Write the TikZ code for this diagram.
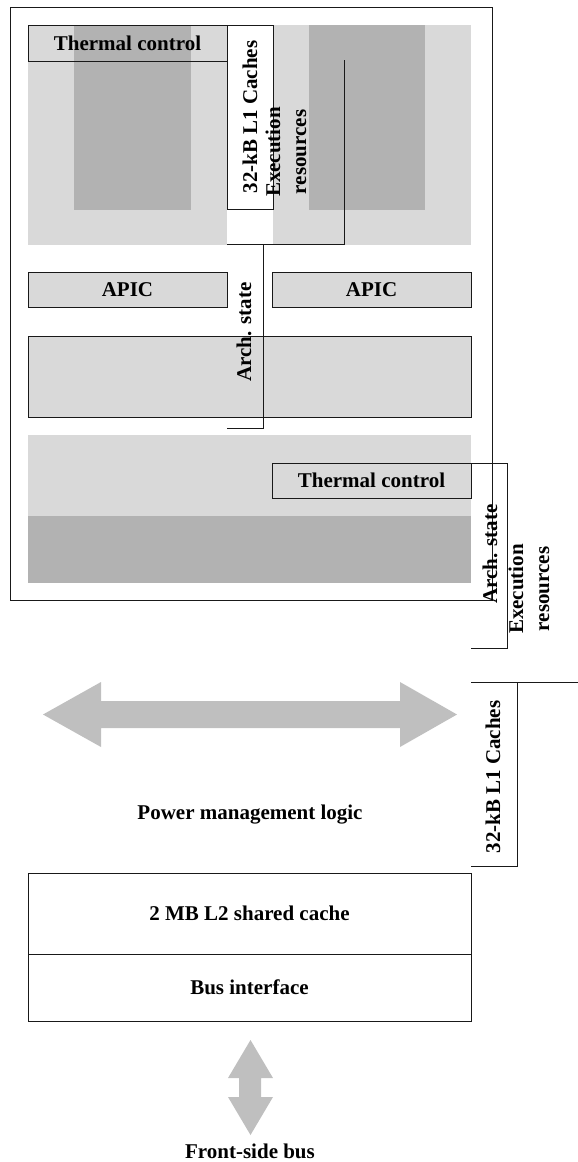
\documentclass[tikz,border=0pt]{standalone}
\usepackage{fontspec}
\setmainfont{Liberation Serif}
\usetikzlibrary{positioning}
\definecolor{cLight}{RGB}{217,217,217}
\definecolor{cDark}{RGB}{178,178,178}
\definecolor{cArrow}{RGB}{191,191,191}
\definecolor{cLine}{RGB}{25,25,25}
\newcommand{\blkfont}{\fontsize{21}{26}\selectfont\bfseries}
\tikzset{
  zone/.style={rectangle, fill=cLight, inner sep=0pt, outer sep=0pt, anchor=north west},
  unit/.style={zone, fill=cDark},
  blk/.style={rectangle, draw=cLine, line width=0.9pt, fill=cLight, inner sep=0pt,
              outer sep=0pt, anchor=north west, align=center, font=\blkfont},
  wblk/.style={blk, fill=white},
  oblk/.style={blk, fill=none},
  vlbl/.style={rotate=90, align=center, inner sep=0pt, font=\blkfont},
  txt/.style={inner sep=0pt, font=\blkfont},
  brk/.style={draw=cLine, line width=0.9pt},
  fat/.style={fill=cArrow},
}

\begin{document}
\begin{tikzpicture}[x=1pt, y=-1pt]
  \useasboundingbox (0,0) rectangle (578,1162);

  % --- chip outline ---
  \node[oblk, minimum width=482pt, minimum height=593pt] (chip) at (10,7) {};

  % --- core 1 and core 2 shading ---
  \node[zone, minimum width=199pt, minimum height=220pt] (core1) at (28,25) {};
  \node[unit, minimum width=117pt, minimum height=185pt] (exe1) at (74,25) {};
  \node[zone, minimum width=198pt, minimum height=220pt] (core2) at (273,25) {};
  \node[unit, minimum width=116pt, minimum height=185pt] (exe2) at (309,25) {};
  \node[zone, minimum width=443pt, minimum height=81pt] (core3) at (28,435) {};
  \node[unit, minimum width=443pt, minimum height=67pt] (exe3) at (28,516) {};

  % --- blocks ---
  \node[oblk, minimum width=199pt, minimum height=36pt] (tc1) at (28,25) {Thermal control};
  \node[wblk, anchor=center, rotate=90, minimum width=184pt, minimum height=46pt]
    (l1a) at (250,117) {32-kB L1 Caches};
  \node[blk, minimum width=199pt, minimum height=35pt] (apic1) at (28,272) {APIC};
  \node[blk, minimum width=199pt, minimum height=35pt] (apic2) at (272,272) {APIC};
  \node[blk, minimum width=443pt, minimum height=81pt] (arch) at (28,336) {};
  \node[oblk, minimum width=199pt, minimum height=35pt] (tc2) at (272,463) {Thermal control};

  % --- brackets ---
  \coordinate (exTop) at (344,60);
  \coordinate (exEnd) at (227,244);
  \coordinate (asTop) at (263,244);
  \coordinate (asEnd) at (227,428);
  \coordinate (rbEnd) at (471,648);
  \coordinate (l1Top) at (471,682);
  \coordinate (l1Far) at (578,682);
  \coordinate (l1Mid) at (517,682);
  \coordinate (l1End) at (471,866);
  \draw[brk] (exTop) |- (exEnd);
  \draw[brk] (asTop) |- (asEnd);
  \draw[brk] (tc2.north east) -- ++(36,0) |- (rbEnd);
  \draw[brk] (l1Top) -- (l1Far);
  \draw[brk] (l1Mid) |- (l1End);

  % --- rotated labels ---
  \node[vlbl] (exlbl1) at (286,152) {Execution\\resources};
  \node[vlbl] (aslbl1) at (244,332) {Arch. state};
  \node[vlbl] (aslbl2) at (490,554) {Arch. state};
  \node[vlbl] (exlbl2) at (529,589) {Execution\\resources};
  \node[vlbl] (l1b) at (493,777) {32-kB L1 Caches};

  % --- shared part ---
  \fill[fat] (43,714.5) -- (101,682) -- (101,701) -- (400,701) -- (400,682) -- (457,714.5)
    -- (400,747) -- (400,728) -- (101,728) -- (101,747) -- cycle;
  \node[txt] (pml) at (250,815) {Power management logic};
  \node[wblk, minimum width=443pt, minimum height=81pt] (l2) at (28,873) {2 MB L2 shared cache};
  \node[wblk, minimum width=443pt, minimum height=67pt] (bus) at (28,954) {Bus interface};
  \fill[fat] (250.5,1040) -- (273,1078) -- (261,1078) -- (261,1097) -- (273,1097) -- (250.5,1135)
    -- (228,1097) -- (239,1097) -- (239,1078) -- (228,1078) -- cycle;
  \node[txt] (fsb) at (250,1151) {Front-side bus};
\end{tikzpicture}
\end{document}
